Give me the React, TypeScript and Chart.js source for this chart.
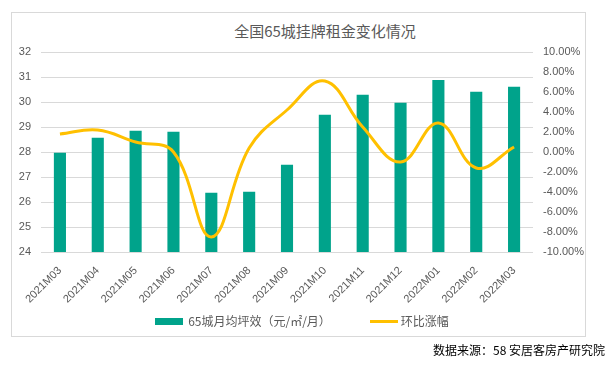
import React, { useEffect, useRef } from "react";
import { Chart, registerables } from "chart.js";

Chart.register(...registerables);

const categories = [
  "2021M03", "2021M04", "2021M05", "2021M06", "2021M07", "2021M08", "2021M09",
  "2021M10", "2021M11", "2021M12", "2022M01", "2022M02", "2022M03",
];
const rentValues = [27.97, 28.57, 28.85, 28.81, 26.37, 26.41, 27.49, 29.49, 30.29, 29.97, 30.88, 30.41, 30.61];
const momChange = [1.8, 2.2, 1.0, 0.0, -8.5, 0.4, 4.2, 7.1, 2.5, -1.0, 2.9, -1.6, 0.5];
const seriesNames = ["65城月均坪效（元/㎡/月）", "环比涨幅"];
const titleText = "全国65城挂牌租金变化情况";
const sourceText = "数据来源：58 安居客房产研究院";
const leftMin = 24;
const leftMax = 32;
const rightMin = -10;
const rightMax = 10;

const GREEN = "#00A38B";
const YELLOW = "#FFC000";
const TEXT = "#595959";
const GRID = "#D9D9D9";
const CJK = "'Noto Sans CJK SC', 'Liberation Sans', sans-serif";
const LATIN = "'Liberation Sans', Arial, sans-serif";

export default function App() {
  const canvasRef = useRef<HTMLCanvasElement | null>(null);

  useEffect(() => {
    const canvas = canvasRef.current;
    if (!canvas) return;
    const chart = new Chart(canvas, {
      type: "bar",
      data: {
        labels: categories,
        datasets: [
          {
            type: "line",
            label: seriesNames[1],
            data: momChange,
            yAxisID: "y1",
            borderColor: YELLOW,
            backgroundColor: YELLOW,
            borderWidth: 3,
            pointRadius: 0,
            tension: 0.4,
            order: 0,
          } as any,
          {
            type: "bar",
            label: seriesNames[0],
            data: rentValues,
            yAxisID: "y",
            backgroundColor: GREEN,
            categoryPercentage: 0.32,
            barPercentage: 1,
            order: 1,
          } as any,
        ],
      },
      options: {
        responsive: false,
        animation: false,
        layout: { padding: { top: 52, left: 0, right: 0, bottom: 60 } },
        plugins: {
          title: { display: false },
          tooltip: { enabled: false },
          legend: { display: false },
        },
        scales: {
          x: {
            grid: { display: false },
            border: { display: false },
            ticks: {
              minRotation: 45,
              maxRotation: 45,
              autoSkip: false,
              padding: 4,
              color: TEXT,
              font: { size: 11, family: LATIN },
            },
            afterFit: (scale: any) => {
              scale.height = 57;
            },
          },
          y: {
            position: "left",
            min: leftMin,
            max: leftMax,
            grid: { color: GRID, lineWidth: 1, drawTicks: false },
            border: { display: false },
            ticks: {
              stepSize: 1,
              padding: 10,
              color: TEXT,
              font: { size: 11, family: LATIN },
            },
            afterFit: (scale: any) => {
              scale.width = 41;
            },
          },
          y1: {
            position: "right",
            min: rightMin,
            max: rightMax,
            grid: { display: false, drawTicks: false },
            border: { display: false },
            ticks: {
              stepSize: 2,
              padding: 10,
              color: TEXT,
              font: { size: 11, family: LATIN },
              callback: (v: any) => `${Number(v).toFixed(2)}%`,
            },
            afterFit: (scale: any) => {
              scale.width = 75;
            },
          },
        },
      },
    });
    return () => chart.destroy();
  }, []);

  const legendText: React.CSSProperties = {
    fontFamily: CJK,
    fontSize: 12,
    color: TEXT,
    lineHeight: "16px",
    whiteSpace: "nowrap",
  };

  return (
    <div style={{ position: "fixed", left: 0, top: 0, width: 608, height: 369, background: "#fff" }}>
      <div
        style={{
          position: "absolute",
          left: 11,
          top: 12,
          width: 575,
          height: 325,
          boxSizing: "border-box",
          border: `1px solid ${GRID}`,
        }}
      />
      <div
        style={{
          position: "absolute",
          left: 125,
          width: 400,
          top: 21,
          height: 20,
          lineHeight: "20px",
          textAlign: "center",
          fontFamily: CJK,
          fontSize: 15,
          color: TEXT,
        }}
      >
        {titleText}
      </div>
      <canvas ref={canvasRef} width={608} height={369} style={{ position: "absolute", left: 0, top: 0 }} />
      <div
        style={{
          position: "absolute",
          left: 0,
          width: 604,
          top: 313,
          height: 16,
          display: "flex",
          justifyContent: "center",
          alignItems: "center",
        }}
      >
        <span style={{ display: "inline-block", width: 28, height: 7, background: GREEN, marginRight: 5 }} />
        <span style={legendText}>{seriesNames[0]}</span>
        <span style={{ display: "inline-block", width: 28, height: 3, background: YELLOW, marginLeft: 39, marginRight: 3 }} />
        <span style={legendText}>{seriesNames[1]}</span>
      </div>
      <div
        style={{
          position: "absolute",
          right: 3,
          top: 342,
          height: 16,
          lineHeight: "16px",
          fontFamily: CJK,
          fontSize: 12,
          color: "#000",
          whiteSpace: "nowrap",
        }}
      >
        {sourceText}
      </div>
    </div>
  );
}
